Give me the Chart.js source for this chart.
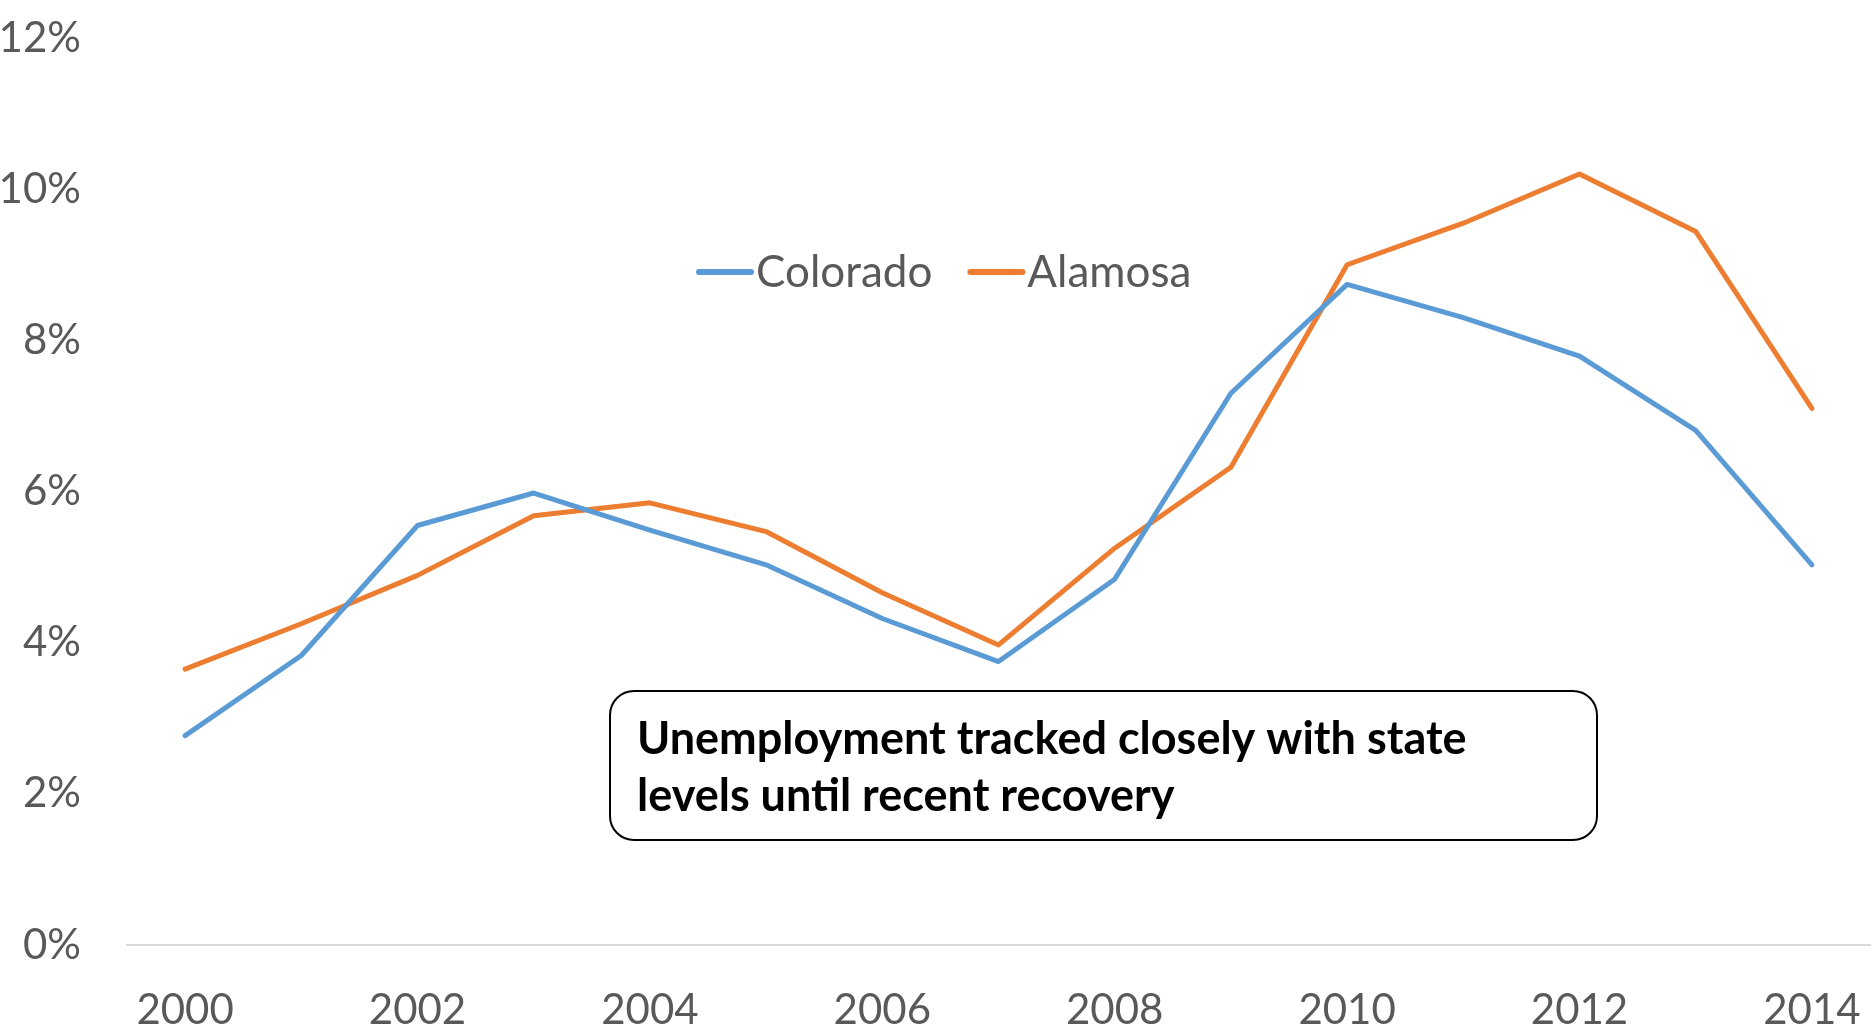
<!DOCTYPE html>
<html>
<head>
<meta charset="utf-8">
<script src="https://cdn.jsdelivr.net/npm/chart.js@4"></script>
<style>
  html, body { margin: 0; padding: 0; background: #fff; }
  #wrap { width: 1874px; height: 1030px; }
</style>
</head>
<body>
<div id="wrap"><canvas id="myChart" width="1874" height="1030"></canvas></div>
<script>
const years = ["2000", "2001", "2002", "2003", "2004", "2005", "2006", "2007",
               "2008", "2009", "2010", "2011", "2012", "2013", "2014"];
const colorado = [2.77, 3.83, 5.55, 5.98, 5.49, 5.03, 4.32, 3.75, 4.84, 7.30, 8.74, 8.30, 7.79, 6.81, 5.03];
const alamosa = [3.65, 4.25, 4.89, 5.68, 5.85, 5.47, 4.66, 3.97, 5.25, 6.32, 9.00, 9.55, 10.20, 9.44, 7.10];
const yTicks = [0, 2, 4, 6, 8, 10, 12];
const note = ["Unemployment tracked closely with state", "levels until recent recovery"];

const FONT = "Lato, 'Open Sans', sans-serif";
const GREY = "#595959";

// legend drawn inside the plot, like the original
const insideLegend = {
    id: "insideLegend",
    afterDraw(chart) {
        const ctx = chart.ctx;
        let x = 699;
        const y = 272;
        ctx.save();
        ctx.font = "44px " + FONT;
        ctx.textBaseline = "middle";
        ctx.textAlign = "left";
        chart.data.datasets.forEach(ds => {
            ctx.strokeStyle = ds.borderColor;
            ctx.lineWidth = 6;
            ctx.lineCap = "round";
            ctx.beginPath();
            ctx.moveTo(x, y);
            ctx.lineTo(x + 52, y);
            ctx.stroke();
            ctx.fillStyle = GREY;
            ctx.fillText(ds.label, x + 57, y + 1);
            x += 57 + ctx.measureText(ds.label).width + 38;
        });
        ctx.restore();
    }
};

// the text box with the comment
const noteBox = {
    id: "noteBox",
    afterDraw(chart) {
        const ctx = chart.ctx;
        const bx = 610, by = 691, bw = 987, bh = 149, r = 24;
        ctx.save();
        ctx.beginPath();
        ctx.roundRect(bx, by, bw, bh, r);
        ctx.fillStyle = "#fff";
        ctx.fill();
        ctx.lineWidth = 2;
        ctx.strokeStyle = "#000";
        ctx.stroke();

        ctx.font = "bold 40px " + FONT;
        const w = ctx.measureText(note[0]).width;
        const size = Math.round(40 * 827 / w);
        ctx.font = "bold " + size + "px " + FONT;
        ctx.fillStyle = "#000";
        ctx.textBaseline = "middle";
        ctx.textAlign = "left";
        ctx.fillText(note[0], 637, 739);
        ctx.fillText(note[1], 637, 796);
        ctx.restore();
    }
};

new Chart(document.getElementById("myChart"), {
    type: "line",
    data: {
        labels: years,
        datasets: [
            {
                label: "Colorado",
                data: colorado,
                borderColor: "#5B9BD5",
                backgroundColor: "#5B9BD5",
                borderWidth: 5,
                borderJoinStyle: "round",
                borderCapStyle: "round",
                pointRadius: 0,
                tension: 0
            },
            {
                label: "Alamosa",
                data: alamosa,
                borderColor: "#ED7D31",
                backgroundColor: "#ED7D31",
                borderWidth: 5,
                borderJoinStyle: "round",
                borderCapStyle: "round",
                pointRadius: 0,
                tension: 0
            }
        ]
    },
    options: {
        responsive: false,
        animation: false,
        layout: { padding: { top: 38, right: 4, left: 0, bottom: 0 } },
        plugins: {
            legend: { display: false },
            tooltip: { enabled: false }
        },
        scales: {
            x: {
                offset: true,
                grid: { display: false, drawTicks: false },
                border: { display: true, color: "#D9D9D9", width: 2 },
                ticks: {
                    autoSkip: false,
                    maxRotation: 0,
                    padding: 40,
                    color: GREY,
                    font: { family: FONT, size: 42 },
                    callback: (v, i) => (i % 2 === 0 ? years[i] : "")
                },
                afterFit: s => {
                    s.height = 85;
                    s.paddingLeft = 0;
                    s.paddingRight = 0;
                }
            },
            y: {
                min: 0,
                max: 12,
                afterBuildTicks: s => { s.ticks = yTicks.map(v => ({ value: v })); },
                grid: { display: false, drawTicks: false },
                border: { display: false },
                ticks: {
                    padding: 46,
                    color: GREY,
                    font: { family: FONT, size: 42 },
                    callback: v => v + "%"
                },
                afterFit: s => {
                    s.width = 127;
                    s.paddingTop = 0;
                    s.paddingBottom = 0;
                }
            }
        }
    },
    plugins: [insideLegend, noteBox]
});
</script>
</body>
</html>
